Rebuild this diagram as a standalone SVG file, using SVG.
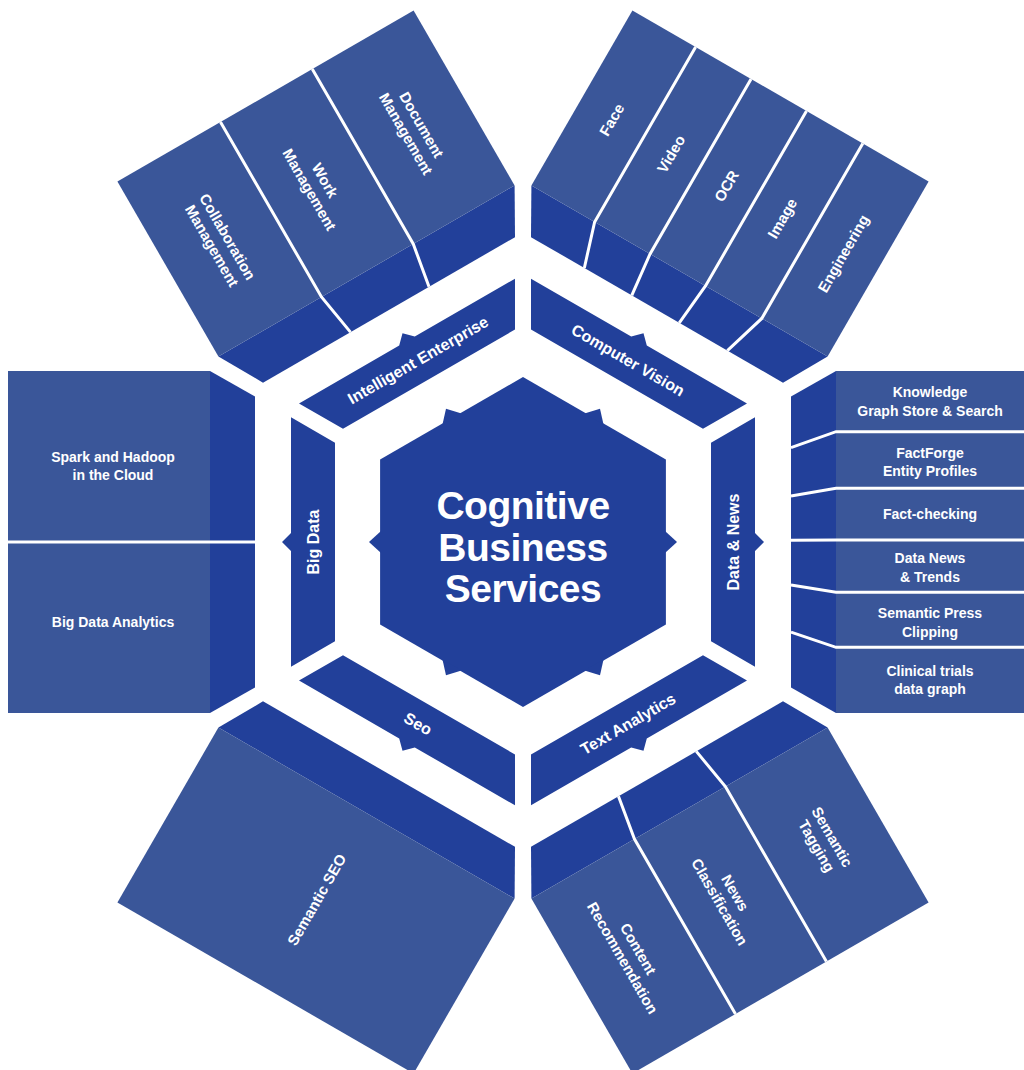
<svg xmlns="http://www.w3.org/2000/svg" xmlns:xlink="http://www.w3.org/1999/xlink" width="1024" height="1070" viewBox="0 0 1024 1070">
<style>
.lt{fill:#3a5699}
.dk{fill:#22409a}
.dv{fill:none;stroke:#fff;stroke-width:3}
.t{font-family:"Liberation Sans",Arial,sans-serif;font-weight:bold;fill:#fff;text-anchor:middle;dominant-baseline:central}
.bl{font-size:16px}
.it{font-size:15px}
.hz{font-size:14px}
.ct{font-family:"Liberation Sans",Arial,sans-serif;font-weight:bold;fill:#fff;text-anchor:middle;font-size:39px;letter-spacing:-0.5px}
</style>
<defs>
<polygon id="band" points="-124.7,-232 -9,-232 0,-241 9,-232 124.7,-232 99.3,-188 -99.3,-188"/>
<polygon id="dark" points="-145.5,-268 145.5,-268 171,-313 -171,-313"/>
<rect id="light" x="-171" y="-515" width="342" height="202"/>
<polygon id="hb" points="-11,-142 0,-154 11,-142"/>
</defs>
<rect width="1024" height="1070" fill="#fff"/>

<g id="center">
<polygon class="dk" points="523,377 665.9,459.5 665.9,624.5 523,707 380.1,624.5 380.1,459.5"/>
<g transform="translate(523 542)">
<use href="#hb" class="dk" transform="rotate(-30)"/>
<use href="#hb" class="dk" transform="rotate(30)"/>
<use href="#hb" class="dk" transform="rotate(90)"/>
<use href="#hb" class="dk" transform="rotate(150)"/>
<use href="#hb" class="dk" transform="rotate(210)"/>
<use href="#hb" class="dk" transform="rotate(270)"/>
</g>
<text class="ct"><tspan x="523" y="519">Cognitive</tspan><tspan x="523" y="561">Business</tspan><tspan x="523" y="602">Services</tspan></text>
</g>

<g id="intelligent-enterprise" transform="translate(523 542) rotate(-30)">
<use href="#band" class="dk"/>
<text class="t bl" transform="translate(0,-210)">Intelligent Enterprise</text>
</g>
<g id="computer-vision" transform="translate(523 542) rotate(30)">
<use href="#band" class="dk"/>
<text class="t bl" transform="translate(0,-210)">Computer Vision</text>
</g>
<g id="data-news" transform="translate(523 542) rotate(90)">
<use href="#band" class="dk"/>
<text class="t bl" transform="translate(0,-210) rotate(180)">Data &amp; News</text>
</g>
<g id="text-analytics" transform="translate(523 542) rotate(150)">
<use href="#band" class="dk"/>
<text class="t bl" transform="translate(0,-210) rotate(180)">Text Analytics</text>
</g>
<g id="seo" transform="translate(523 542) rotate(210)">
<use href="#band" class="dk"/>
<text class="t bl" transform="translate(0,-210) rotate(180)">Seo</text>
</g>
<g id="big-data" transform="translate(523 542) rotate(270)">
<use href="#band" class="dk"/>
<text class="t bl" transform="translate(0,-210)">Big Data</text>
</g>

<g id="ie-services" transform="translate(523 542) rotate(-30)">
<use href="#dark" class="dk"/>
<use href="#light" class="lt"/>
<polyline class="dv" points="-44.5,-268 -52,-313 -52,-515"/>
<polyline class="dv" points="46.2,-268 54,-313 54,-515"/>
<text class="t it" transform="translate(-111.5,-412) rotate(90)"><tspan x="0" y="-9">Collaboration</tspan><tspan x="0" y="9">Management</tspan></text>
<text class="t it" transform="translate(1,-412) rotate(90)"><tspan x="0" y="-9">Work</tspan><tspan x="0" y="9">Management</tspan></text>
<text class="t it" transform="translate(112.5,-412) rotate(90)"><tspan x="0" y="-9">Document</tspan><tspan x="0" y="9">Management</tspan></text>
</g>

<g id="cv-services" transform="translate(523 542) rotate(30)">
<use href="#dark" class="dk"/>
<use href="#light" class="lt"/>
<polyline class="dv" points="-83.9,-268 -98,-313 -98,-515"/>
<polyline class="dv" points="-29.1,-268 -34,-313 -34,-515"/>
<polyline class="dv" points="25.7,-268 30,-313 30,-515"/>
<polyline class="dv" points="81.3,-268 95,-313 95,-515"/>
<text class="t it" transform="translate(-134.5,-410) rotate(-90)">Face</text>
<text class="t it" transform="translate(-66,-410) rotate(-90)">Video</text>
<text class="t it" transform="translate(-2,-410) rotate(-90)">OCR</text>
<text class="t it" transform="translate(62.5,-410) rotate(-90)">Image</text>
<text class="t it" transform="translate(133,-410) rotate(-90)">Engineering</text>
</g>

<g id="dn-services">
<g transform="translate(523 542) rotate(90)">
<use href="#dark" class="dk"/>
<use href="#light" class="lt"/>
<polyline class="dv" points="-94.4,-268 -110.3,-313 -110.3,-515"/>
<polyline class="dv" points="-46,-268 -53.7,-313 -53.7,-515"/>
<polyline class="dv" points="-1.7,-268 -2,-313 -2,-515"/>
<polyline class="dv" points="43.1,-268 50.3,-313 50.3,-515"/>
<polyline class="dv" points="90.2,-268 105.3,-313 105.3,-515"/>
</g>
<text class="t hz"><tspan x="930" y="392.3">Knowledge</tspan><tspan x="930" y="410.7">Graph Store &amp; Search</tspan></text>
<text class="t hz"><tspan x="930" y="452.5">FactForge</tspan><tspan x="930" y="470.9">Entity Profiles</tspan></text>
<text class="t hz"><tspan x="930" y="514.3">Fact-checking</tspan></text>
<text class="t hz"><tspan x="930" y="558.3">Data News</tspan><tspan x="930" y="576.7">&amp; Trends</tspan></text>
<text class="t hz"><tspan x="930" y="613.3">Semantic Press</tspan><tspan x="930" y="631.7">Clipping</tspan></text>
<text class="t hz"><tspan x="930" y="671">Clinical trials</tspan><tspan x="930" y="689.4">data graph</tspan></text>
</g>

<g id="ta-services" transform="translate(523 542) rotate(150)">
<use href="#dark" class="dk"/>
<use href="#light" class="lt"/>
<polyline class="dv" points="44.5,-268 52,-313 52,-515"/>
<polyline class="dv" points="-45.4,-268 -53,-313 -53,-515"/>
<text class="t it" transform="translate(-112,-410) rotate(-90)"><tspan x="0" y="-9">Semantic</tspan><tspan x="0" y="9">Tagging</tspan></text>
<text class="t it" transform="translate(0,-410) rotate(-90)"><tspan x="0" y="-9">News</tspan><tspan x="0" y="9">Classification</tspan></text>
<text class="t it" transform="translate(112,-410) rotate(-90)"><tspan x="0" y="-9">Content</tspan><tspan x="0" y="9">Recommendation</tspan></text>
</g>

<g id="seo-services" transform="translate(523 542) rotate(210)">
<use href="#dark" class="dk"/>
<use href="#light" class="lt"/>
<text class="t it" transform="translate(0,-413) rotate(90)">Semantic SEO</text>
</g>

<g id="bd-services">
<g transform="translate(523 542) rotate(270)">
<use href="#dark" class="dk"/>
<use href="#light" class="lt"/>
<polyline class="dv" points="0,-268 0,-313 0,-515"/>
</g>
<text class="t hz"><tspan x="113" y="456.7">Spark and Hadoop</tspan><tspan x="113" y="475">in the Cloud</tspan></text>
<text class="t hz"><tspan x="113" y="621.7">Big Data Analytics</tspan></text>
</g>

<g id="connectors"></g>
</svg>
